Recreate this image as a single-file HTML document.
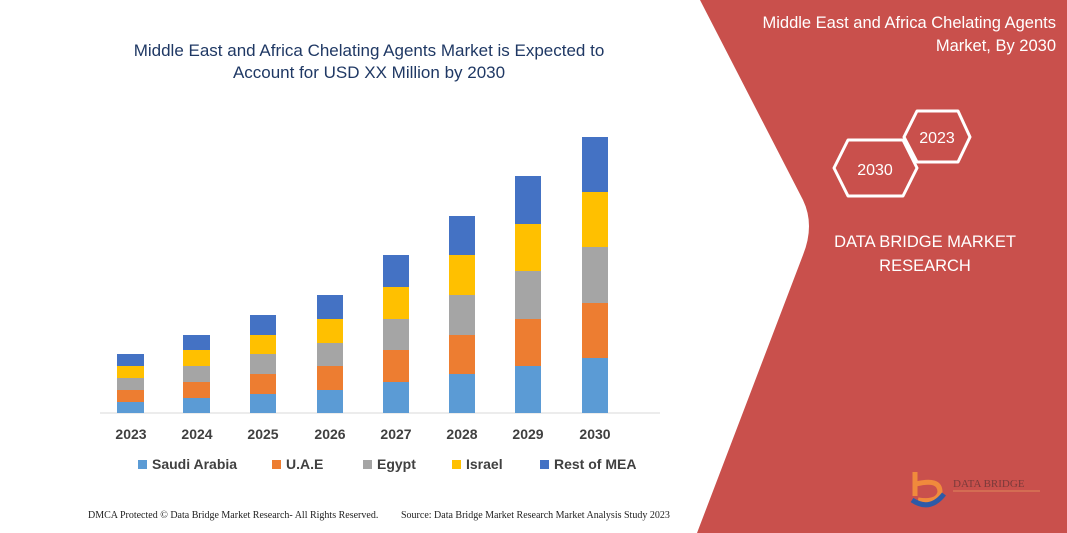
<!DOCTYPE html>
<html><head><meta charset="utf-8"><style>
html,body{margin:0;padding:0;background:#fff;}
body{width:1067px;height:533px;overflow:hidden;position:relative;font-family:"Liberation Sans",sans-serif;}
</style></head><body>
<svg width="1067" height="533" viewBox="0 0 1067 533" xmlns="http://www.w3.org/2000/svg" style="position:absolute;left:0;top:0">
<rect width="1067" height="533" fill="#fff"/>
<path d="M700,0 L1067,0 L1067,533 L697,533 L803,255 Q815,225 803,200 Z" fill="#C9504C"/>
<g font-family="Liberation Sans, sans-serif" fill="#1F3864" font-size="17" text-anchor="middle">
<text x="369" y="56">Middle East and Africa Chelating Agents Market is Expected to</text>
<text x="369" y="78">Account for USD XX Million by 2030</text>
</g>
<g font-family="Liberation Sans, sans-serif" fill="#fff" font-size="16.5" text-anchor="end">
<text x="1056" y="28">Middle East and Africa Chelating Agents</text>
<text x="1056" y="51">Market, By 2030</text>
</g>
<polygon points="917,111 958,111 970,137 958,162 917,162 904,137" fill="none" stroke="#fff" stroke-width="3" stroke-linejoin="round"/>
<text x="937" y="143" fill="#fff" font-size="16" text-anchor="middle" font-family="Liberation Sans, sans-serif">2023</text>
<polygon points="848,140 903,140 917,168 903,196 848,196 834,168" fill="none" stroke="#fff" stroke-width="3" stroke-linejoin="round"/>
<text x="875" y="175" fill="#fff" font-size="16" text-anchor="middle" font-family="Liberation Sans, sans-serif">2030</text>
<g font-family="Liberation Sans, sans-serif" fill="#fff" font-size="16.5" text-anchor="middle">
<text x="925" y="247">DATA BRIDGE MARKET</text>
<text x="925" y="271">RESEARCH</text>
</g>
<path d="M915,472 L915,496" stroke="#F08A3C" stroke-width="5"/>
<path d="M916,484 Q940,478 940,492 Q938,503 918,500" fill="none" stroke="#F08A3C" stroke-width="5"/>
<path d="M912,500 Q930,512 944,494" fill="none" stroke="#2E5AA8" stroke-width="5"/>
<text x="953" y="487" fill="#7a3a3a" font-size="11" font-family="Liberation Serif, serif">DATA BRIDGE</text>
<line x1="953" y1="491" x2="1040" y2="491" stroke="#E0885A" stroke-width="1"/>
<line x1="100" y1="413" x2="660" y2="413" stroke="#d9d9d9" stroke-width="1"/>
<g font-family="Liberation Sans, sans-serif" font-weight="bold" fill="#404040" font-size="14" text-anchor="middle">
<text x="131" y="439">2023</text><text x="197" y="439">2024</text><text x="263" y="439">2025</text><text x="330" y="439">2026</text><text x="396" y="439">2027</text><text x="462" y="439">2028</text><text x="528" y="439">2029</text><text x="595" y="439">2030</text>
</g>
<g font-family="Liberation Sans, sans-serif" font-weight="bold" fill="#404040" font-size="14">
<rect x="138" y="460" width="9" height="9" fill="#5B9BD5"/><text x="152" y="469">Saudi Arabia</text>
<rect x="272" y="460" width="9" height="9" fill="#ED7D31"/><text x="286" y="469">U.A.E</text>
<rect x="363" y="460" width="9" height="9" fill="#A5A5A5"/><text x="377" y="469">Egypt</text>
<rect x="452" y="460" width="9" height="9" fill="#FFC000"/><text x="466" y="469">Israel</text>
<rect x="540" y="460" width="9" height="9" fill="#4472C4"/><text x="554" y="469">Rest of MEA</text>
</g>
<g font-family="Liberation Serif, serif" fill="#222" font-size="10">
<text x="88" y="518">DMCA Protected © Data Bridge Market Research-  All Rights Reserved.</text>
<text x="401" y="518">Source:  Data Bridge Market Research  Market Analysis Study 2023</text>
</g>
<g>
<rect x="117" y="402" width="27" height="11" fill="#5B9BD5"/><rect x="117" y="390" width="27" height="12" fill="#ED7D31"/><rect x="117" y="378" width="27" height="12" fill="#A5A5A5"/><rect x="117" y="366" width="27" height="12" fill="#FFC000"/><rect x="117" y="354" width="27" height="12" fill="#4472C4"/>
<rect x="183" y="398" width="27" height="15" fill="#5B9BD5"/><rect x="183" y="382" width="27" height="16" fill="#ED7D31"/><rect x="183" y="366" width="27" height="16" fill="#A5A5A5"/><rect x="183" y="350" width="27" height="16" fill="#FFC000"/><rect x="183" y="335" width="27" height="15" fill="#4472C4"/>
<rect x="250" y="394" width="26" height="19" fill="#5B9BD5"/><rect x="250" y="374" width="26" height="20" fill="#ED7D31"/><rect x="250" y="354" width="26" height="20" fill="#A5A5A5"/><rect x="250" y="335" width="26" height="19" fill="#FFC000"/><rect x="250" y="315" width="26" height="20" fill="#4472C4"/>
<rect x="317" y="390" width="26" height="23" fill="#5B9BD5"/><rect x="317" y="366" width="26" height="24" fill="#ED7D31"/><rect x="317" y="343" width="26" height="23" fill="#A5A5A5"/><rect x="317" y="319" width="26" height="24" fill="#FFC000"/><rect x="317" y="295" width="26" height="24" fill="#4472C4"/>
<rect x="383" y="382" width="26" height="31" fill="#5B9BD5"/><rect x="383" y="350" width="26" height="32" fill="#ED7D31"/><rect x="383" y="319" width="26" height="31" fill="#A5A5A5"/><rect x="383" y="287" width="26" height="32" fill="#FFC000"/><rect x="383" y="255" width="26" height="32" fill="#4472C4"/>
<rect x="449" y="374" width="26" height="39" fill="#5B9BD5"/><rect x="449" y="335" width="26" height="39" fill="#ED7D31"/><rect x="449" y="295" width="26" height="40" fill="#A5A5A5"/><rect x="449" y="255" width="26" height="40" fill="#FFC000"/><rect x="449" y="216" width="26" height="39" fill="#4472C4"/>
<rect x="515" y="366" width="26" height="47" fill="#5B9BD5"/><rect x="515" y="319" width="26" height="47" fill="#ED7D31"/><rect x="515" y="271" width="26" height="48" fill="#A5A5A5"/><rect x="515" y="224" width="26" height="47" fill="#FFC000"/><rect x="515" y="176" width="26" height="48" fill="#4472C4"/>
<rect x="582" y="358" width="26" height="55" fill="#5B9BD5"/><rect x="582" y="303" width="26" height="55" fill="#ED7D31"/><rect x="582" y="247" width="26" height="56" fill="#A5A5A5"/><rect x="582" y="192" width="26" height="55" fill="#FFC000"/><rect x="582" y="137" width="26" height="55" fill="#4472C4"/>
</g>
</svg>
</body></html>
